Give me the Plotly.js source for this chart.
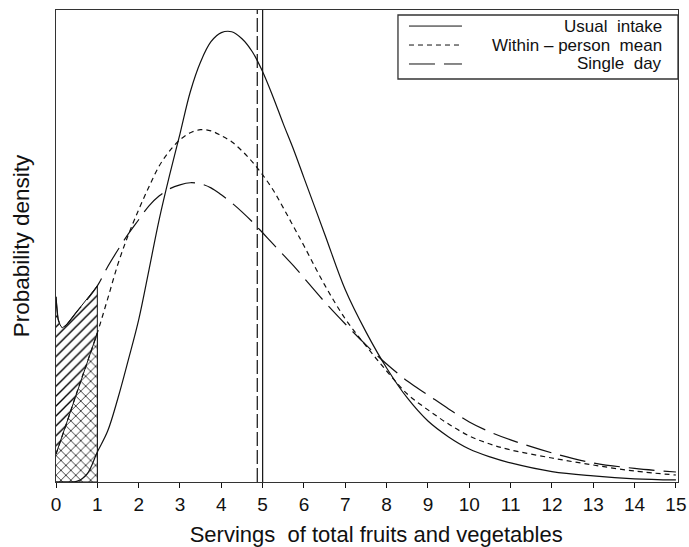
<!DOCTYPE html>
<html>
<head>
<meta charset="utf-8">
<script src="https://cdn.plot.ly/plotly-3.0.1.min.js"></script>
<style>html,body{margin:0;padding:0;background:#fff;}#chart{width:689px;height:547px;}</style>
</head>
<body>
<div id="chart"></div>
<script>
// Usual intake (solid)
const usualX = [0,0.25,0.5,0.75,1,1.25,1.5,1.75,2,2.25,2.5,2.75,3,3.25,3.5,3.75,4,4.25,4.5,4.75,5,5.25,5.5,5.75,6,6.5,7,7.5,8,8.5,9,9.5,10,10.5,11,12,13,14,15];
const usualY = [0,0,0.0003,0.0042,0.0159,0.0270,0.0445,0.0647,0.0859,0.1124,0.1394,0.1627,0.1844,0.2067,0.2226,0.2332,0.2380,0.2385,0.2348,0.2279,0.2173,0.2041,0.1897,0.1760,0.1611,0.1314,0.1018,0.0795,0.0604,0.0445,0.0323,0.0239,0.0175,0.0133,0.0101,0.0055,0.0032,0.0017,0.0011];
// Within-person mean (short dash)
const withinX = [0,0.25,0.5,0.75,1,1.25,1.5,1.75,2,2.25,2.5,2.75,3,3.25,3.5,3.75,4,4.25,4.5,4.75,5,5.25,5.5,5.75,6,6.5,7,7.5,8,8.5,9,9.5,10,10.5,11,12,13,14,15];
const withinY = [0.0148,0.0307,0.0472,0.0631,0.0790,0.0970,0.1155,0.1309,0.1442,0.1564,0.1675,0.1754,0.1813,0.1850,0.1866,0.1860,0.1834,0.1802,0.1754,0.1696,0.1627,0.1548,0.1452,0.1352,0.1251,0.1044,0.0864,0.0721,0.0588,0.0466,0.0382,0.0307,0.0244,0.0201,0.0170,0.0127,0.0090,0.0058,0.0037];
// Single day (long dash)
const singleX = [0,0.05,0.1,0.15,0.25,0.5,0.75,1,1.25,1.5,1.75,2,2.25,2.5,2.75,3,3.25,3.5,3.75,4,4.25,4.5,4.75,5,5.25,5.5,5.75,6,6.5,7,7.5,8,8.5,9,9.5,10,10.5,11,12,13,14,15];
const singleY = [0.0981,0.0864,0.0832,0.0816,0.0832,0.0901,0.0965,0.1039,0.1140,0.1230,0.1314,0.1389,0.1463,0.1516,0.1553,0.1574,0.1585,0.1579,0.1558,0.1521,0.1479,0.1431,0.1378,0.1320,0.1261,0.1203,0.1145,0.1081,0.0954,0.0837,0.0726,0.0625,0.0535,0.0461,0.0387,0.0318,0.0265,0.0223,0.0154,0.0101,0.0072,0.0053];
// Reference lines: [dashed, solid]
const meanLines = [4.87, 5.0];
const cutoff = 1;
const tickVals = [0,1,2,3,4,5,6,7,8,9,10,11,12,13,14,15];
const seriesNames = ['Usual  intake', 'Within – person  mean', 'Single  day'];

function below(xs, ys, c) {
  const ox = [], oy = [];
  xs.forEach((x, i) => { if (x <= c) { ox.push(x); oy.push(ys[i]); } });
  return {x: ox.concat([c, 0]), y: oy.concat([0, 0])};
}
const hs = below(singleX, singleY, cutoff);
const hw = below(withinX, withinY, cutoff);

const ink = '#111';
const dashes = ['solid', '5px,4px', '26px,9px'];
const font = 'Liberation Sans, Arial, sans-serif';

const traces = [
  {x: hs.x, y: hs.y, mode: 'lines', fill: 'toself', fillcolor: 'white',
   fillpattern: {shape: '/', fgcolor: '#000', bgcolor: 'white', size: 7, solidity: 0.2},
   line: {color: ink, width: 1}, showlegend: false, hoverinfo: 'skip'},
  {x: hw.x, y: hw.y, mode: 'lines', fill: 'toself', fillcolor: 'white',
   fillpattern: {shape: 'x', fgcolor: '#000', bgcolor: 'white', size: 7, solidity: 0.2},
   line: {color: ink, width: 1}, showlegend: false, hoverinfo: 'skip'},
  {x: usualX, y: usualY, mode: 'lines', name: seriesNames[0], line: {color: ink, width: 1.2, dash: dashes[0], shape: 'spline', smoothing: 1}},
  {x: withinX, y: withinY, mode: 'lines', name: seriesNames[1], line: {color: ink, width: 1.2, dash: dashes[1], shape: 'spline', smoothing: 1}},
  {x: singleX, y: singleY, mode: 'lines', name: seriesNames[2], line: {color: ink, width: 1.2, dash: dashes[2], shape: 'spline', smoothing: 1}}
];

const shapes = [
  {type: 'line', xref: 'x', yref: 'paper', x0: meanLines[0], x1: meanLines[0], y0: 0, y1: 1, line: {color: ink, width: 1.2, dash: '14px,4px'}},
  {type: 'line', xref: 'x', yref: 'paper', x0: meanLines[1], x1: meanLines[1], y0: 0, y1: 1, line: {color: ink, width: 1.2}},
  {type: 'rect', xref: 'paper', yref: 'paper', x0: 0.5498, x1: 1.0, y0: 0.8538, y1: 0.9894, line: {color: '#333', width: 1.3}, fillcolor: 'white'}
];
const rowY = [0.9660, 0.9258, 0.8856];
const annotations = [];
seriesNames.forEach((n, i) => {
  shapes.push({type: 'line', xref: 'paper', yref: 'paper', x0: 0.5675, x1: 0.6527, y0: rowY[i], y1: rowY[i], line: {color: ink, width: 1, dash: dashes[i]}});
  annotations.push({xref: 'paper', yref: 'paper', x: 0.9759, y: rowY[i], xanchor: 'right', yanchor: 'middle', showarrow: false, borderpad: 0, text: n, font: {family: font, size: 17, color: ink}});
});

const layout = {
  width: 689, height: 547,
  margin: {l: 56, r: 11, t: 10, b: 65},
  paper_bgcolor: 'white', plot_bgcolor: 'white',
  showlegend: false,
  xaxis: {range: [0, 15.05], tickvals: tickVals, ticktext: tickVals.map(String), ticks: 'outside', ticklen: 5, tickcolor: ink, tickwidth: 1,
          showline: true, mirror: true, linecolor: '#333', linewidth: 1.3, showgrid: false, zeroline: false,
          tickfont: {family: font, size: 19, color: ink},
          title: {text: '&nbsp;&nbsp;&nbsp;Servings  of total fruits and vegetables', standoff: 12, font: {family: font, size: 22, color: ink}}},
  yaxis: {range: [0, 0.25], showticklabels: false, ticks: '', showline: true, mirror: true, linecolor: '#333', linewidth: 1.3, showgrid: false, zeroline: false,
          title: {text: 'Probability density', standoff: 18, font: {family: font, size: 22.5, color: ink}}},
  shapes: shapes,
  annotations: annotations
};
Plotly.newPlot('chart', traces, layout, {displayModeBar: false, staticPlot: true});
</script>
</body>
</html>
